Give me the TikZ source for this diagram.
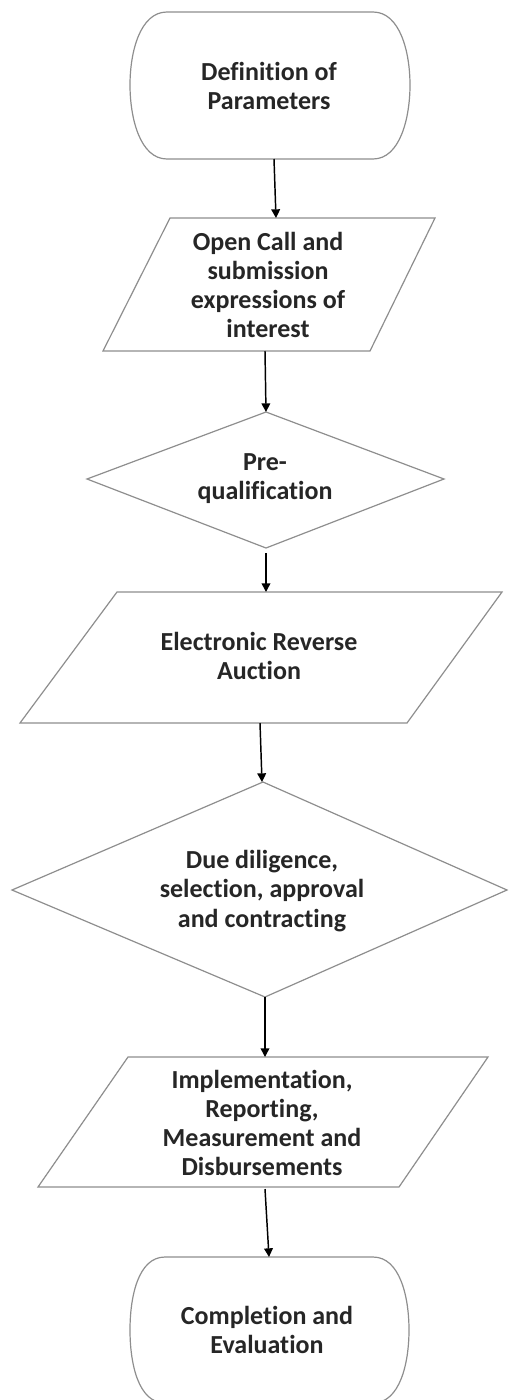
\documentclass[tikz,border=0pt]{standalone}
\usepackage{fontspec}
\setmainfont[Ligatures=NoCommon]{Carlito}
\usetikzlibrary{arrows.meta}
\definecolor{edgegray}{HTML}{8E8E8E}
\definecolor{txt}{HTML}{262626}
\tikzset{
  shapeline/.style={draw=edgegray, line width=0.9pt, fill=white},
  lbl/.style={align=center, text=txt, font=\bfseries\fontsize{19.5}{21.9}\selectfont, inner sep=0pt},
  conn/.style={draw=black, line width=1.1pt, -{Triangle[length=6.5pt,width=6.5pt]}}
}
\begin{document}
\begin{tikzpicture}[x=0.75pt,y=-0.75pt]
\useasboundingbox (0,0) rectangle (508,1400);
% ---------- shapes ----------
% terminal 1
\draw[shapeline] (167,12) -- (373,12) .. controls (400,12) and (410,52) .. (410,85)
  .. controls (410,118) and (400,159) .. (373,159) -- (167,159)
  .. controls (140,159) and (130,118) .. (130,85) .. controls (130,52) and (140,12) .. (167,12) -- cycle;
% parallelogram 1
\draw[shapeline] (170,218) -- (435,218) -- (370,351) -- (103,351) -- cycle;
% diamond 1
\draw[shapeline] (266,412) -- (444,479) -- (266,548) -- (87,479) -- cycle;
% parallelogram 2
\draw[shapeline] (117,592) -- (502,592) -- (407,723) -- (20,723) -- cycle;
% diamond 2
\draw[shapeline] (263,782) -- (507,890) -- (265,997) -- (12,890) -- cycle;
% parallelogram 3
\draw[shapeline] (128,1057) -- (488,1057) -- (399,1187) -- (38,1187) -- cycle;
% terminal 2
\draw[shapeline] (165,1257) -- (373,1257) .. controls (400,1257) and (409,1297) .. (409,1330)
  .. controls (409,1363) and (400,1403) .. (373,1403) -- (165,1403)
  .. controls (138,1403) and (130,1363) .. (130,1330) .. controls (130,1297) and (138,1257) .. (165,1257) -- cycle;
% ---------- text nodes ----------
\node[lbl] (n1) at (269,86) {Definition of\\Parameters};
\node[lbl] (n2) at (268,285) {Open Call and\\submission\\expressions of\\interest};
\node[lbl] (n3) at (265,479) {Pre-\\qualification};
\node[lbl] (n4) at (259,656) {Electronic Reverse\\Auction};
\node[lbl] (n5) at (262,891) {Due diligence,\\selection, approval\\and contracting};
\node[lbl] (n6) at (262,1123) {Implementation,\\Reporting,\\Measurement and\\Disbursements};
\node[lbl] (n7) at (267,1330) {Completion and\\Evaluation};
% ---------- connector end points ----------
\coordinate (a1s) at (274,159); \coordinate (a1e) at (276,218);
\coordinate (a2s) at (265,351); \coordinate (a2e) at (266,412);
\coordinate (a3s) at (266,553); \coordinate (a3e) at (266,592);
\coordinate (a4s) at (260,723); \coordinate (a4e) at (262,782);
\coordinate (a5s) at (265,997); \coordinate (a5e) at (265,1057);
\coordinate (a6s) at (265,1189); \coordinate (a6e) at (269,1257);
% ---------- connectors ----------
\draw[conn] (a1s) -- (a1e);
\draw[conn] (a2s) -- (a2e);
\draw[conn] (a3s) -- (a3e);
\draw[conn] (a4s) -- (a4e);
\draw[conn] (a5s) -- (a5e);
\draw[conn] (a6s) -- (a6e);
\end{tikzpicture}
\end{document}
